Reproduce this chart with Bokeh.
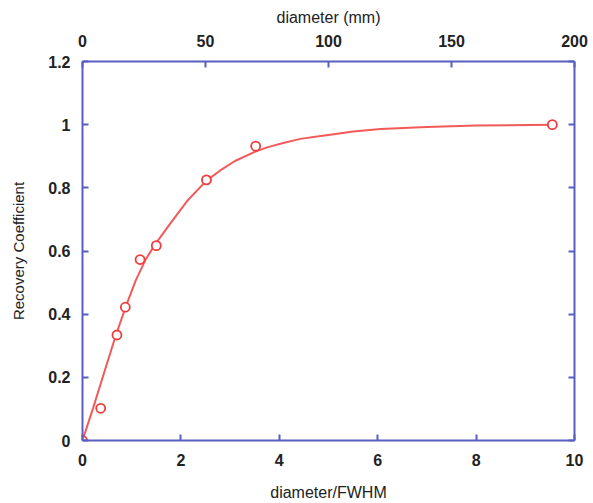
from bokeh.plotting import figure
from bokeh.models import Range1d, LinearAxis, FixedTicker
from bokeh.embed import file_html
from bokeh.resources import INLINE

# measured points (diameter/FWHM, recovery coefficient)
pt_x = [0.0, 0.37, 0.70, 0.87, 1.17, 1.50, 2.52, 3.52, 9.55]
pt_y = [0.0, 0.102, 0.334, 0.422, 0.573, 0.617, 0.825, 0.932, 1.0]

# fitted curve
curve_x = [0.0, 0.22, 0.45, 0.665, 0.87, 1.08, 1.28, 1.48, 1.79, 2.13, 2.52,
           2.80, 3.1, 3.5, 3.75, 4.1, 4.43, 4.8, 5.11, 5.5, 6.06, 7.0, 8.0, 9.55]
curve_y = [0.0, 0.105, 0.22, 0.327, 0.42, 0.506, 0.572, 0.622, 0.688, 0.759, 0.823,
           0.855, 0.885, 0.914, 0.928, 0.943, 0.955, 0.963, 0.97, 0.978, 0.986,
           0.993, 0.997, 1.0]

x_ticks = [0, 2, 4, 6, 8, 10]
x_labels = ["0", "2", "4", "6", "8", "10"]
mm_ticks = [0, 50, 100, 150, 200]
mm_labels = ["0", "50", "100", "150", "200"]
y_ticks = [0, 0.2, 0.4, 0.6, 0.8, 1.0, 1.2]
y_labels = ["0", "0.2", "0.4", "0.6", "0.8", "1", "1.2"]

BLUE = "#5a5ec0"
LINE_RED = "#f25a5a"
PT_RED = "#ee3c3c"
FONT = "Liberation Sans"

p = figure(width=588, height=503, output_backend="svg", toolbar_location=None,
           x_range=Range1d(0, 10), y_range=Range1d(0, 1.2),
           x_axis_type=None, y_axis_type=None,
           min_border_left=82, min_border_right=14, min_border_top=61,
           min_border_bottom=63)
p.extra_x_ranges = {"mm": Range1d(0, 200)}
p.outline_line_color = None
p.background_fill_color = "white"
p.border_fill_color = "white"

bottom = LinearAxis(axis_label="diameter/FWHM")
left = LinearAxis(axis_label="Recovery Coefficient")
top = LinearAxis(x_range_name="mm", axis_label="diameter (mm)")
right = LinearAxis()
p.add_layout(bottom, "below")
p.add_layout(left, "left")
p.add_layout(top, "above")
p.add_layout(right, "right")

def style(ax, ticks, labels):
    ax.ticker = FixedTicker(ticks=ticks)
    ax.major_label_overrides = {t: l for t, l in zip(ticks, labels)}
    ax.axis_line_color = BLUE
    ax.axis_line_width = 2
    ax.major_tick_line_color = BLUE
    ax.major_tick_line_width = 2
    ax.major_tick_in = 6
    ax.major_tick_out = 0
    ax.minor_tick_line_color = None
    ax.major_label_text_font = FONT
    ax.major_label_text_font_size = "16px"
    ax.major_label_text_font_style = "bold"
    ax.major_label_text_color = "#222222"
    ax.axis_label_text_font = FONT
    ax.axis_label_text_font_size = "16px"
    ax.axis_label_text_font_style = "normal"
    ax.axis_label_text_color = "#222222"

style(bottom, x_ticks, x_labels)
style(left, y_ticks, y_labels)
style(top, mm_ticks, mm_labels)
style(right, y_ticks, ["" for _ in y_ticks])
right.major_label_standoff = 0

bottom.major_label_standoff = 13
bottom.axis_label_standoff = 15
top.major_label_standoff = 15
top.axis_label_standoff = 6
left.axis_label_text_font_size = "15px"
left.major_label_standoff = 12
left.axis_label_standoff = 18

p.line(curve_x, curve_y, line_color=LINE_RED, line_width=2)
p.scatter(pt_x, pt_y, size=9, marker="circle", line_color=PT_RED,
          line_width=1.8, fill_color="white")

open("out.html", "w").write(file_html(p, INLINE))
